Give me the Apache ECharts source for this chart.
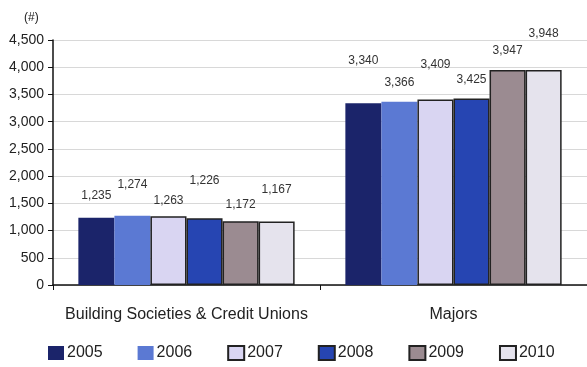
<!DOCTYPE html>
<html><head><meta charset="utf-8">
<script src="https://cdn.jsdelivr.net/npm/echarts@6/dist/echarts.min.js"></script>
<style>html,body{margin:0;padding:0;background:#fff}#c{width:587px;height:367px}</style>
</head><body><div id="c"></div>
<script>
var categories = ['Building Societies & Credit Unions', 'Majors'];
var years = ['2005', '2006', '2007', '2008', '2009', '2010'];
var v2005 = [1235, 3340];
var v2006 = [1274, 3366];
var v2007 = [1263, 3409];
var v2008 = [1226, 3425];
var v2009 = [1172, 3947];
var v2010 = [1167, 3948];
var yTicks = [0, 500, 1000, 1500, 2000, 2500, 3000, 3500, 4000, 4500];

var seriesValues = [v2005, v2006, v2007, v2008, v2009, v2010];
var colors = ['#1b246a', '#5b79d3', '#d9d5f2', '#2645b2', '#9b8b91', '#e5e3ed'];
var borders = [0, 0, 1.5, 1.5, 1.5, 1.5];
// label vertical offsets (style) per series per category
var labelDy = [[-11, -31], [-20, -8], [-5, -24], [-27, -8], [-6, -8], [-21, -25]];

var font = 'Arial, "Liberation Sans", sans-serif';
var series = seriesValues.map(function (vals, i) {
  return {
    name: years[i],
    type: 'bar',
    barGap: '0%',
    barCategoryGap: '19%',
    itemStyle: { color: colors[i], borderColor: '#222', borderWidth: borders[i] },
    data: vals.map(function (v, j) {
      return { value: v, label: { offset: [0, labelDy[i][j]] } };
    }),
    label: {
      show: true, position: 'top', distance: 5,
      fontFamily: font, fontSize: 12, color: '#333',
      formatter: function (p) { return p.value.toLocaleString('en-US'); }
    }
  };
});

var chart = echarts.init(document.getElementById('c'));
chart.setOption({
  animation: false,
  textStyle: { fontFamily: font },
  title: { text: '(#)', left: 19, top: 7, textStyle: { fontSize: 12, fontWeight: 'normal', color: '#222', fontFamily: font } },
  grid: { left: 53, top: 40, right: -6, bottom: 82 },
  legend: {
    bottom: 1, left: 43, itemGap: 35, itemWidth: 16, itemHeight: 14, icon: 'rect',
    textStyle: { fontSize: 16, color: '#222', fontFamily: font, padding: [0, 0, 0, -2] },
    data: years
  },
  xAxis: {
    type: 'category', data: categories,
    axisLine: { lineStyle: { color: '#111', width: 1.5 } },
    axisTick: { show: true, length: 5, lineStyle: { color: '#111' } },
    axisLabel: { interval: 0, fontSize: 16, color: '#222', margin: 22, fontFamily: font }
  },
  yAxis: {
    type: 'value', min: yTicks[0], max: yTicks[yTicks.length - 1], interval: yTicks[1] - yTicks[0],
    axisLine: { show: true, lineStyle: { color: '#111', width: 1.5 } },
    axisTick: { show: true, length: 5, lineStyle: { color: '#111' } },
    splitLine: { lineStyle: { color: '#d8d8d8' } },
    axisLabel: { fontSize: 14, color: '#222', margin: 9, fontFamily: font,
      formatter: function (v) { return v.toLocaleString('en-US'); } }
  },
  series: series
});
</script></body></html>
